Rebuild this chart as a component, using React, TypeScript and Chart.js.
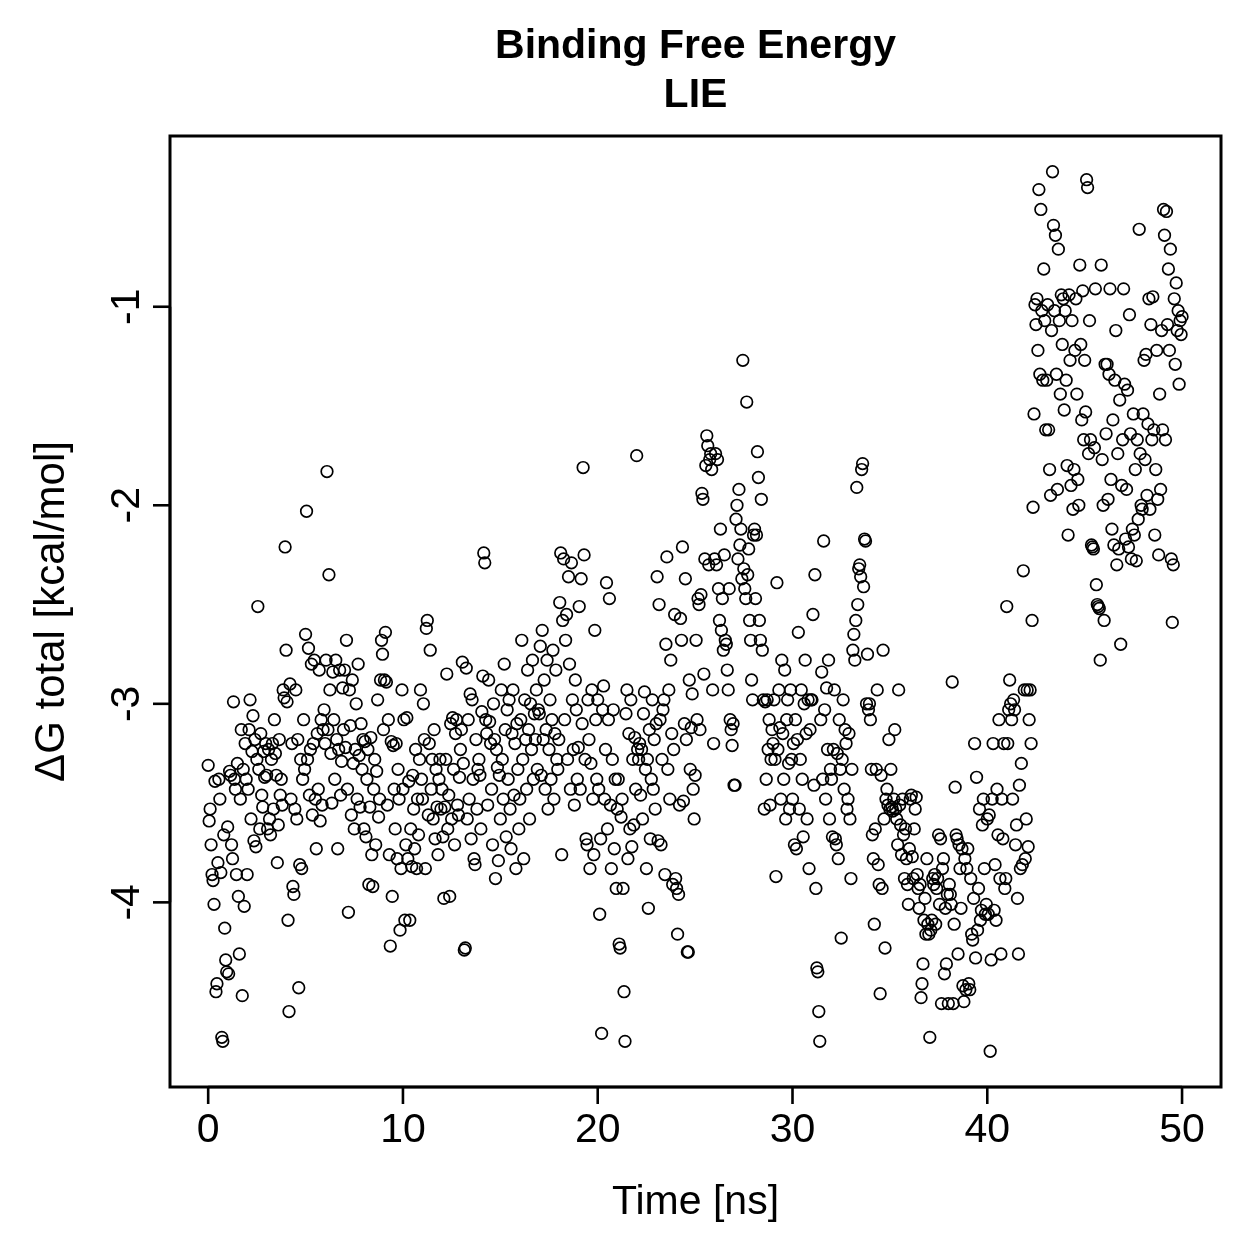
import { useEffect, useRef } from "react";
import { Chart, registerables } from "chart.js";

Chart.register(...registerables);

const titleLines = ["Binding Free Energy", "LIE"];
const xLabel = "Time [ns]";
const yLabel = "ΔG total [kcal/mol]";
const xTicks = [0, 10, 20, 30, 40, 50];
const yTicks = [-4, -3, -2, -1];
const timeStep = 0.05; // ns between frames

// ΔG total [kcal/mol], one value per frame (0 .. 50 ns)
const deltaG = [
  // 0-1 ns
  -3.31, -3.59, -3.53, -3.71, -3.86, -3.89, -4.01, -3.39, -4.45, -4.41, -3.80, -3.38, -3.48, -3.85, -4.68, -4.70, -3.66, -4.13, -4.29, -4.35,
  // 1-2
  -3.62, -4.36, -3.34, -3.36, -3.71, -3.78, -2.99, -3.38, -3.43, -3.86, -3.30, -3.97, -4.26, -3.48, -3.13, -4.47, -3.33, -4.02, -3.20, -3.38,
  // 2-3
  -3.86, -3.43, -3.13, -2.98, -3.58, -3.24, -3.06, -3.69, -3.18, -3.72, -3.28, -2.51, -3.33, -3.63, -3.15, -3.46, -3.52, -3.24, -3.37, -3.20,
  // 3-4
  -3.36, -3.63, -3.23, -3.58, -3.66, -3.28, -3.20, -3.53, -3.08, -3.25, -3.36, -3.80, -3.61, -3.18, -3.46, -3.38, -3.51, -2.93, -2.97, -2.21,
  // 4-5
  -2.73, -2.99, -4.09, -4.55, -2.90, -3.48, -3.20, -3.92, -3.96, -3.53, -2.93, -3.58, -3.18, -4.43, -3.81, -3.28, -3.83, -3.38, -3.08, -3.33,
  // 5-6
  -2.65, -2.03, -3.28, -2.72, -3.46, -3.23, -2.80, -3.56, -3.20, -2.78, -3.48, -3.73, -3.15, -3.43, -2.83, -3.59, -3.08, -3.51, -3.13, -3.03,
  // 6-7
  -3.20, -2.78, -1.83, -3.13, -2.35, -2.93, -3.25, -3.50, -2.84, -3.08, -3.38, -2.78, -3.18, -3.73, -3.23, -2.83, -3.46, -3.29, -2.92, -3.13,
  // 7-8
  -2.83, -3.22, -2.68, -3.43, -4.05, -2.93, -3.11, -3.56, -2.88, -3.30, -3.63, -3.23, -3.00, -3.48, -2.80, -3.26, -3.52, -3.10, -3.33, -3.18,
  // 8-9
  -3.63, -3.19, -3.67, -3.38, -3.23, -3.91, -3.52, -3.17, -3.76, -3.92, -3.43, -3.28, -3.71, -3.34, -2.98, -3.57, -3.48, -2.88, -2.68, -2.75,
  // 9-10
  -3.13, -2.88, -2.64, -2.89, -3.51, -3.08, -3.76, -4.22, -3.19, -3.97, -3.21, -3.43, -3.63, -3.20, -3.78, -3.33, -3.48, -4.14, -3.83, -2.93,
  // 10-11
  -3.43, -3.08, -4.09, -3.71, -3.07, -3.78, -3.39, -4.09, -3.63, -3.82, -3.36, -3.53, -3.73, -3.23, -3.83, -3.48, -3.66, -3.28, -2.93, -3.38,
  // 11-12
  -3.48, -3.00, -3.18, -3.83, -2.62, -2.58, -3.56, -3.20, -2.73, -3.43, -3.28, -3.58, -3.13, -3.68, -3.33, -3.52, -3.76, -3.38, -3.28, -3.53,
  // 12-13
  -3.43, -3.67, -3.98, -3.52, -3.28, -2.85, -3.63, -3.46, -3.97, -3.10, -3.58, -3.07, -3.33, -3.71, -3.15, -3.08, -3.51, -3.56, -3.37, -3.23,
  // 13-14
  -3.13, -2.79, -3.30, -4.24, -4.23, -2.82, -3.58, -3.08, -3.48, -2.95, -3.68, -2.98, -3.38, -3.78, -3.81, -3.18, -3.53, -3.33, -3.28, -3.36,
  // 14-15
  -3.63, -3.04, -2.86, -2.24, -2.29, -3.08, -3.15, -3.51, -2.88, -3.09, -3.20, -3.43, -3.71, -3.00, -3.18, -3.88, -3.23, -3.32, -3.79, -3.36,
  // 15-16
  -3.58, -2.93, -3.28, -3.48, -2.80, -3.13, -3.67, -3.03, -3.38, -2.98, -3.53, -3.73, -3.15, -2.93, -3.46, -3.20, -3.83, -3.10, -3.33, -3.63,
  // 16-17
  -3.48, -3.08, -2.68, -3.28, -3.78, -2.98, -3.18, -3.43, -2.83, -3.13, -3.58, -3.00, -3.23, -2.78, -3.38, -3.05, -3.18, -2.93, -3.33, -3.03,
  // 17-18
  -3.05, -2.71, -3.36, -2.63, -3.18, -2.88, -3.43, -3.13, -2.78, -3.53, -3.23, -2.98, -3.38, -3.08, -2.73, -3.48, -3.15, -2.83, -3.28, -3.33,
  // 18-19
  -3.18, -2.49, -2.24, -3.76, -2.58, -2.27, -3.08, -2.68, -2.55, -3.28, -2.36, -2.80, -3.43, -2.29, -2.98, -3.23, -3.51, -2.88, -3.03, -3.38,
  // 19-20
  -3.22, -2.51, -3.43, -2.37, -3.10, -1.81, -2.25, -3.28, -3.68, -3.71, -2.98, -3.18, -3.83, -3.30, -2.93, -3.48, -3.76, -2.63, -3.08, -3.38,
  // 20-21
  -2.98, -3.43, -4.06, -3.68, -4.66, -3.03, -2.91, -3.48, -3.23, -2.39, -3.63, -3.08, -2.47, -3.51, -3.83, -3.28, -3.03, -3.73, -3.38, -3.93,
  // 21-22
  -3.53, -3.38, -4.21, -4.23, -3.57, -3.48, -3.93, -4.45, -4.70, -3.05, -2.93, -3.78, -3.15, -3.63, -2.98, -3.72, -3.28, -3.61, -3.17, -3.43,
  // 22-23
  -1.75, -3.23, -3.28, -3.20, -3.46, -3.23, -3.58, -3.05, -2.94, -3.33, -3.83, -3.28, -4.03, -3.13, -3.68, -3.38, -2.98, -3.43, -3.18, -3.53,
  // 23-24
  -3.10, -2.36, -3.69, -2.50, -3.08, -3.71, -3.28, -3.03, -2.98, -3.86, -2.70, -2.26, -3.33, -2.93, -3.48, -2.78, -3.15, -3.91, -3.23, -2.55,
  // 24-25
  -3.88, -3.93, -4.16, -3.96, -3.51, -2.57, -2.68, -2.21, -3.49, -3.10, -2.37, -3.18, -4.25, -4.25, -2.88, -3.33, -3.12, -2.95, -3.43, -3.58,
  // 25-26
  -3.36, -2.68, -3.08, -2.47, -2.50, -3.13, -2.45, -1.94, -1.97, -2.85, -2.27, -1.80, -1.65, -1.70, -2.30, -1.77, -1.74, -1.82, -2.93, -3.20,
  // 26-27
  -2.27, -1.74, -2.30, -1.77, -2.42, -2.58, -2.12, -2.63, -2.47, -2.73, -2.25, -2.68, -2.70, -2.83, -2.93, -2.42, -3.08, -3.13, -3.21, -3.10,
  // 27-28
  -3.41, -3.41, -2.07, -2.00, -2.27, -1.92, -2.20, -2.12, -2.37, -1.27, -2.32, -2.42, -2.47, -1.48, -2.35, -2.22, -2.58, -2.68, -2.88, -2.98,
  // 28-29
  -2.15, -2.12, -2.47, -2.15, -1.73, -1.86, -2.58, -2.68, -1.97, -2.73, -2.98, -3.53, -2.99, -3.38, -2.98, -3.23, -3.08, -3.51, -3.28, -3.13,
  // 29-30
  -3.20, -2.98, -3.28, -3.87, -2.39, -3.23, -2.93, -3.12, -3.48, -2.78, -3.15, -3.38, -2.83, -3.58, -3.08, -2.98, -3.30, -3.53, -2.93, -3.28,
  // 30-31
  -3.48, -3.20, -3.71, -3.08, -3.73, -3.18, -2.64, -3.53, -3.28, -2.93, -3.38, -3.67, -3.00, -2.78, -3.15, -3.58, -2.98, -3.83, -3.13, -2.98,
  // 31-32
  -2.98, -2.55, -3.41, -2.35, -3.93, -4.33, -4.35, -4.55, -4.70, -3.08, -2.84, -3.38, -2.18, -3.03, -3.48, -2.92, -3.23, -2.78, -3.58, -3.33,
  // 32-33
  -3.38, -3.67, -3.23, -2.93, -3.68, -3.71, -3.25, -3.78, -3.08, -3.33, -4.18, -3.28, -2.98, -3.43, -3.13, -3.20, -3.53, -3.48, -3.15, -3.58,
  // 33-34
  -3.88, -3.33, -2.73, -2.65, -2.78, -2.58, -1.91, -2.50, -2.32, -2.30, -2.36, -1.82, -1.79, -2.41, -2.17, -2.18, -3.00, -2.75, -3.03, -3.00,
  // 34-35
  -3.08, -3.33, -3.66, -3.78, -4.11, -3.63, -3.33, -2.93, -3.81, -3.91, -4.46, -3.36, -3.93, -2.73, -3.58, -4.23, -3.48, -3.43, -3.51, -3.18,
  // 35-36
  -3.53, -3.33, -3.52, -3.54, -3.48, -3.13, -3.53, -3.58, -3.71, -2.93, -3.51, -3.61, -3.76, -3.48, -3.66, -3.88, -3.63, -3.78, -3.91, -4.01,
  // 36-37
  -3.73, -3.48, -3.46, -3.77, -3.88, -3.63, -3.53, -3.47, -3.86, -3.93, -4.03, -3.91, -4.48, -4.41, -4.31, -4.09, -3.98, -4.16, -3.78, -4.11,
  // 37-38
  -4.16, -4.68, -4.14, -4.09, -3.88, -3.91, -3.86, -4.11, -3.93, -3.88, -3.66, -4.01, -3.68, -4.51, -3.83, -3.78, -4.36, -4.03, -4.31, -3.96,
  // 38-39
  -4.51, -3.91, -3.96, -4.01, -2.89, -4.51, -4.11, -3.42, -3.66, -3.68, -4.26, -3.71, -3.83, -4.03, -3.73, -4.42, -4.50, -3.78, -4.44, -3.83,
  // 39-40
  -3.73, -4.41, -4.44, -3.88, -4.16, -4.19, -3.98, -3.20, -4.28, -3.37, -4.14, -3.93, -3.53, -4.09, -4.04, -3.61, -3.48, -3.83, -4.06, -4.01,
  // 40-41
  -3.58, -4.06, -3.56, -4.75, -4.29, -3.48, -3.20, -4.04, -3.81, -4.09, -3.43, -3.66, -3.08, -3.88, -4.26, -3.48, -3.68, -3.20, -3.93, -3.88,
  // 41-42
  -2.51, -3.20, -3.03, -2.88, -3.00, -3.08, -3.48, -2.98, -3.03, -3.71, -3.61, -3.98, -4.26, -3.41, -3.83, -3.30, -3.81, -2.33, -2.93, -3.78,
  // 42-43
  -3.58, -2.93, -3.72, -3.08, -2.93, -3.20, -2.58, -2.01, -1.54, -0.99, -1.09, -0.96, -1.22, -0.41, -1.34, -0.51, -1.02, -1.37, -0.81, -1.07,
  // 43-44
  -1.62, -1.37, -0.99, -1.62, -1.82, -1.95, -1.12, -0.32, -0.59, -1.02, -0.64, -1.34, -1.92, -0.71, -1.07, -1.44, -0.94, -1.19, -0.96, -1.52,
  // 44-45
  -1.02, -1.37, -1.80, -2.15, -0.94, -1.27, -1.90, -1.07, -2.02, -1.82, -1.22, -0.96, -1.44, -1.87, -2.00, -0.79, -1.19, -1.57, -0.92, -1.67,
  // 45-46
  -1.27, -1.53, -0.36, -0.40, -1.74, -1.07, -1.67, -2.20, -2.21, -2.22, -1.71, -0.91, -2.40, -2.50, -2.51, -2.52, -2.78, -0.79, -1.77, -2.00,
  // 46-47
  -2.58, -1.29, -1.64, -1.29, -1.97, -1.34, -0.91, -1.87, -2.12, -1.57, -2.20, -1.37, -1.12, -2.30, -1.74, -2.22, -1.47, -2.70, -1.90, -1.67,
  // 47-48
  -0.91, -1.39, -2.17, -1.92, -1.42, -2.21, -1.04, -1.64, -2.27, -2.12, -1.54, -2.15, -1.82, -2.28, -1.67, -2.07, -0.61, -1.74, -2.00, -2.02,
  // 48-49
  -1.54, -1.27, -1.77, -1.24, -1.95, -1.59, -0.96, -2.02, -1.09, -1.67, -0.95, -1.62, -2.15, -1.82, -1.22, -1.97, -2.25, -1.44, -1.92, -1.12,
  // 49-50
  -1.62, -0.51, -0.64, -1.67, -0.52, -1.09, -0.81, -1.22, -0.71, -2.27, -2.59, -2.30, -0.96, -1.29, -0.88, -1.12, -1.02, -1.39, -1.07, -1.14,
  // 50
  -1.05,
];

const FONT = '"Liberation Sans", Arial, Helvetica, sans-serif';

export default function App() {
  const ref = useRef<HTMLCanvasElement | null>(null);

  useEffect(() => {
    if (!ref.current) return;
    const points = deltaG.map((v, i) => ({ x: Math.round(i * timeStep * 100) / 100, y: v }));

    const rStyle = {
      id: "rStyle",
      beforeDraw(chart: any) {
        const { ctx, width, height } = chart;
        ctx.save();
        ctx.fillStyle = "#ffffff";
        ctx.fillRect(0, 0, width, height);
        ctx.restore();
      },
      afterDraw(chart: any) {
        const { ctx, chartArea: a, scales } = chart;
        ctx.save();
        ctx.strokeStyle = "#000";
        ctx.fillStyle = "#000";
        ctx.lineWidth = 3;
        ctx.strokeRect(a.left, a.top, a.right - a.left, a.bottom - a.top);

        ctx.lineWidth = 2.6;
        // x axis (R style: line from first to last tick)
        const x0 = scales.x.getPixelForValue(xTicks[0]);
        const x1 = scales.x.getPixelForValue(xTicks[xTicks.length - 1]);
        ctx.beginPath();
        ctx.moveTo(x0, a.bottom);
        ctx.lineTo(x1, a.bottom);
        ctx.stroke();
        ctx.font = `41px ${FONT}`;
        ctx.textAlign = "center";
        ctx.textBaseline = "middle";
        for (const v of xTicks) {
          const px = scales.x.getPixelForValue(v);
          ctx.beginPath();
          ctx.moveTo(px, a.bottom);
          ctx.lineTo(px, a.bottom + 17);
          ctx.stroke();
          ctx.fillText(String(v), px, a.bottom + 44);
        }
        // y axis
        const y0 = scales.y.getPixelForValue(yTicks[0]);
        const y1 = scales.y.getPixelForValue(yTicks[yTicks.length - 1]);
        ctx.beginPath();
        ctx.moveTo(a.left, y0);
        ctx.lineTo(a.left, y1);
        ctx.stroke();
        for (const v of yTicks) {
          const py = scales.y.getPixelForValue(v);
          ctx.beginPath();
          ctx.moveTo(a.left, py);
          ctx.lineTo(a.left - 17, py);
          ctx.stroke();
          ctx.save();
          ctx.translate(a.left - 42, py);
          ctx.rotate(-Math.PI / 2);
          ctx.fillText(String(v), 0, 0);
          ctx.restore();
        }
        // axis titles
        const cx = (a.left + a.right) / 2;
        const cy = (a.top + a.bottom) / 2;
        ctx.fillText(xLabel, cx, a.bottom + 116);
        ctx.save();
        ctx.translate(a.left - 118, cy);
        ctx.rotate(-Math.PI / 2);
        ctx.font = `42px ${FONT}`;
        ctx.fillText(yLabel, 0, 0);
        ctx.restore();
        // main title
        ctx.font = `bold 41px ${FONT}`;
        ctx.fillText(titleLines[0], cx, 47);
        ctx.fillText(titleLines[1], cx, 96);
        ctx.restore();
      },
    };

    const chart = new Chart(ref.current, {
      type: "scatter",
      data: {
        datasets: [
          {
            data: points,
            pointStyle: "circle",
            pointRadius: 5.8,
            pointBorderWidth: 1.7,
            borderColor: "#000000",
            backgroundColor: "rgba(0,0,0,0)",
            pointHoverRadius: 5.8,
          },
        ],
      },
      options: {
        responsive: false,
        animation: false,
        devicePixelRatio: 1,
        events: [],
        layout: { padding: { left: 170, top: 136, right: 38, bottom: 172 } },
        scales: {
          x: { type: "linear", min: -1.96, max: 52, display: false },
          y: { type: "linear", min: -4.93, max: -0.14, display: false },
        },
        plugins: {
          legend: { display: false },
          tooltip: { enabled: false },
          title: { display: false },
        },
      },
      plugins: [rStyle],
    });
    return () => chart.destroy();
  }, []);

  return (
    <div style={{ position: "absolute", left: 0, top: 0, width: 1259, height: 1259, background: "#fff" }}>
      <canvas ref={ref} width={1259} height={1259} style={{ display: "block", width: 1259, height: 1259 }} />
    </div>
  );
}
